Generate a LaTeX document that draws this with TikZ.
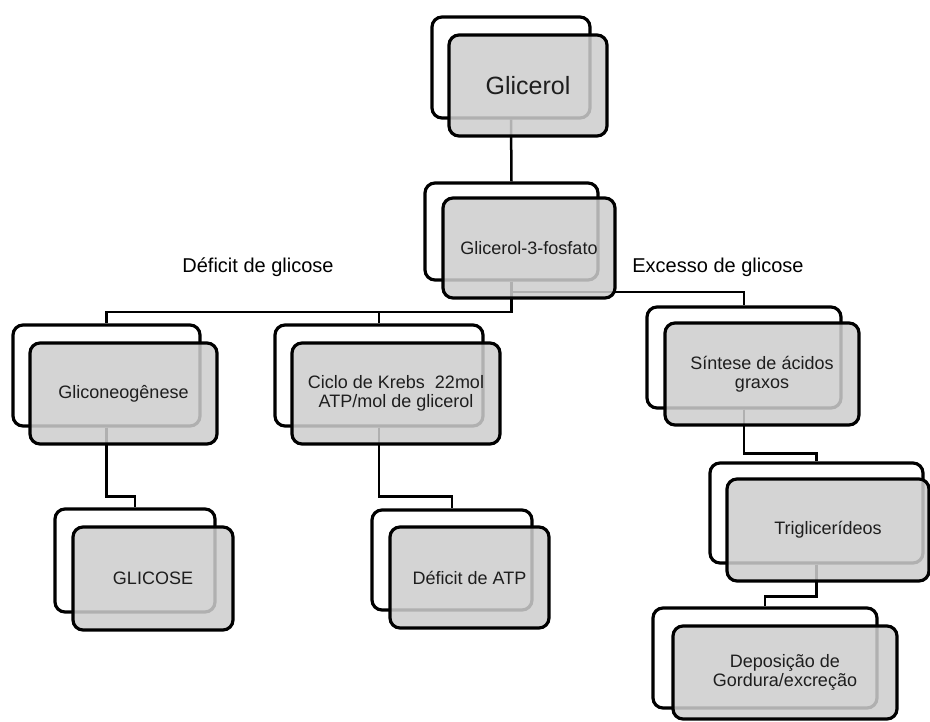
\documentclass[tikz,border=0pt]{standalone}
\usepackage{fontspec}
\setmainfont{Liberation Sans}
\definecolor{frontgray}{RGB}{205,205,205}
\definecolor{txt}{RGB}{30,30,30}
\tikzset{
  backbox/.style={draw=black, line width=3.2pt, rounded corners=10pt, fill=white, inner sep=0pt},
  frontbox/.style={draw=black, line width=3.2pt, rounded corners=10pt, fill=frontgray, fill opacity=0.86, draw opacity=1, text opacity=1, inner sep=0pt, text=txt, align=center, font=\fontsize{18}{19.5}\selectfont},
  conn/.style={draw=black, line width=2.5pt},
  lbl/.style={text=black, font=\fontsize{20}{22}\selectfont, inner sep=0pt}
}
\begin{document}
\begin{tikzpicture}[x=1pt,y=-1pt]
\useasboundingbox (0,0) rectangle (930,722);
% back boxes
\node[backbox, minimum width=158pt, minimum height=101pt] (b1) at (511,67.5) {};
\node[backbox, minimum width=173pt, minimum height=97pt] (b2) at (511.5,231.5) {};
\node[backbox, minimum width=187pt, minimum height=101pt] (b3) at (106.5,375.5) {};
\node[backbox, minimum width=208pt, minimum height=101pt] (b4) at (379,375.5) {};
\node[backbox, minimum width=194pt, minimum height=101pt] (b5) at (744,357.5) {};
\node[backbox, minimum width=213pt, minimum height=100pt] (b6) at (816.5,513) {};
\node[backbox, minimum width=224pt, minimum height=100pt] (b7) at (765,658) {};
\node[backbox, minimum width=160pt, minimum height=103pt] (b8) at (135,560.5) {};
\node[backbox, minimum width=160pt, minimum height=100pt] (b9) at (452,560) {};
% connectors
\coordinate (j1) at (b2.south |- 0,312);
\coordinate (j2) at (b2.south |- 0,292);
\draw[conn] (b1.south) -- (b2.north);
\draw[conn] (b2.south) -- (j1) -| (b3.north);
\draw[conn] (j1) -| (b4.north);
\draw[conn] (j2) -| (b5.north);
\draw[conn] (b5.south) -- ++(0,44) -| (b6.north);
\draw[conn] (b6.south) -- ++(0,32) -| (b7.north);
\draw[conn] (b3.south) -- ++(0,69) -| (b8.north);
\draw[conn] (b4.south) -- ++(0,69) -| (b9.north);
% front boxes
\node[frontbox, minimum width=158pt, minimum height=101pt, font=\fontsize{25}{27}\selectfont] (f1) at (528,85.5) {Glicerol};
\node[frontbox, minimum width=172pt, minimum height=100pt] (f2) at (529,248) {Glicerol-3-fosfato};
\node[frontbox, minimum width=187pt, minimum height=101pt] (f3) at (123.5,393.5) {Gliconeogênese};
\node[frontbox, minimum width=208pt, minimum height=101pt] (f4) at (396,393.5) {Ciclo de Krebs~ 22mol\\ATP/mol de glicerol};
\node[frontbox, minimum width=194pt, minimum height=102pt] (f5) at (762,374) {Síntese de ácidos\\graxos};
\node[frontbox, minimum width=202pt, minimum height=102pt] (f6) at (828,530) {Triglicerídeos};
\node[frontbox, minimum width=224pt, minimum height=93pt] (f7) at (785,672.5) {Deposição de\\Gordura/excreção};
\node[frontbox, minimum width=160pt, minimum height=103pt] (f8) at (153,578.5) {GLICOSE};
\node[frontbox, minimum width=159pt, minimum height=101pt] (f9) at (469.5,577.5) {Déficit de ATP};
% labels
\node[lbl] (l1) at (258,267) {Déficit de glicose};
\node[lbl] (l2) at (718,267) {Excesso de glicose};
\end{tikzpicture}
\end{document}
